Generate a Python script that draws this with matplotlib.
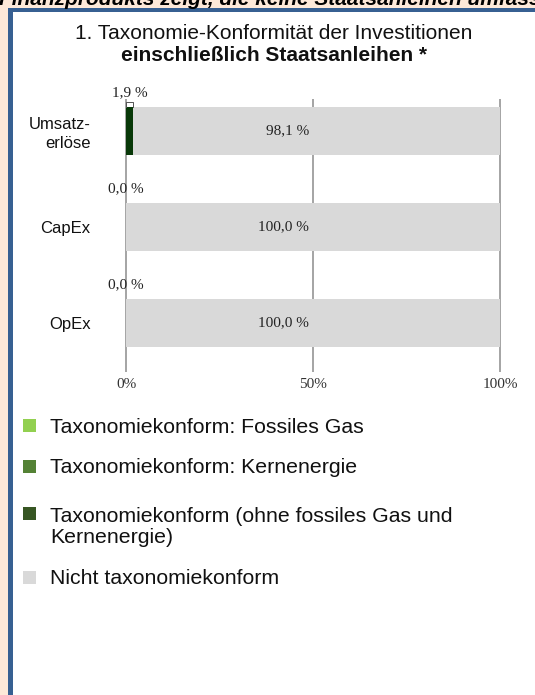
import numpy as np
import matplotlib.pyplot as plt
from matplotlib.patches import Rectangle

# =========================================================
# DATA
# =========================================================
categories = ["Umsatz-\nerlöse", "CapEx", "OpEx"]
gas = [0.0, 0.0, 0.0]            # Taxonomiekonform: Fossiles Gas
nuclear = [0.0, 0.0, 0.0]        # Taxonomiekonform: Kernenergie
aligned = [1.9, 0.0, 0.0]        # Taxonomiekonform (ohne Gas/Kernenergie)
not_aligned = [98.1, 100.0, 100.0]

xticks = [0, 50, 100]
xtick_labels = ["0%", "50%", "100%"]

legend_labels = [
    "Taxonomiekonform: Fossiles Gas",
    "Taxonomiekonform: Kernenergie",
    "Taxonomiekonform (ohne fossiles Gas und\nKernenergie)",
    "Nicht taxonomiekonform",
]
legend_colors = ["#92D050", "#548235", "#375623", "#D9D9D9"]
bar_colors = ["#92D050", "#548235", "#083808", "#D9D9D9"]

title_1 = "1. Taxonomie-Konformität der Investitionen"
title_2 = "einschließlich Staatsanleihen *"
top_text = "Finanzprodukts zeigt, die keine Staatsanleihen umfasst"

# =========================================================
# FIGURE / FRAME
# =========================================================
W, H = 535, 695
fig = plt.figure(figsize=(W / 100, H / 100), dpi=100)
fig.patch.set_facecolor("#FDE9D9")


def fx(px):
    return px / W


def fy(py):
    return 1 - py / H


sans = "Liberation Sans"
serif = "Liberation Serif"

fig.patches.append(Rectangle((fx(8), 0), 1, fy(8), transform=fig.transFigure,
                             facecolor="#376092", edgecolor="none", zorder=-2))
fig.patches.append(Rectangle((fx(13), 0), 1, fy(12), transform=fig.transFigure,
                             facecolor="white", edgecolor="none", zorder=-1))

# header line of the page above, cut off at the top edge
fig.text(fx(-1), fy(5), top_text, fontfamily=sans, fontsize=15,
         fontweight="bold", fontstyle="italic", ha="left", va="baseline")

fig.text(fx(274), fy(39), title_1, fontfamily=sans, fontsize=15,
         ha="center", va="baseline", color="#111111")
fig.text(fx(274), fy(61), title_2, fontfamily=sans, fontsize=15,
         fontweight="bold", ha="center", va="baseline", color="#111111")

# =========================================================
# BARS
# =========================================================
ax = fig.add_axes([fx(125.3), fy(372), fx(375.4), 273 / H], zorder=1)
ax.set_facecolor("none")
for s in ax.spines.values():
    s.set_visible(False)

y = np.arange(len(categories))
left = np.zeros(len(categories))
for vals, col in zip([gas, nuclear, aligned, not_aligned], bar_colors):
    vals = np.array(vals)
    ax.barh(y, vals, left=left, height=0.5, color=col, edgecolor="none", zorder=2)
    left = left + vals

ax.set_xlim(-0.2, 100.2)
ax.set_ylim(2.51, -0.333)
ax.set_xticks(xticks)
ax.set_xticklabels(xtick_labels, fontfamily=serif, fontsize=11, color="#333333")
ax.set_yticks(y)
ax.set_yticklabels(categories, fontfamily=sans, fontsize=12, color="#111111",
                   linespacing=1.3)
ax.tick_params(axis="x", length=0, pad=4)
ax.tick_params(axis="y", length=0, pad=25)
ax.xaxis.grid(True, color="#8C8C8C", linewidth=1.1)
ax.set_axisbelow(True)

# value labels
taxo = np.array(gas) + np.array(nuclear) + np.array(aligned)
for i in range(len(categories)):
    start = taxo[i]
    lab = f"{not_aligned[i]:.1f} %".replace(".", ",")
    ax.text(start + 0.42 * not_aligned[i], i, lab, fontfamily=serif, fontsize=11,
            ha="center", va="center", color="#222222", zorder=3)
    top_lab = f"{taxo[i]:.1f} %".replace(".", ",")
    ax.text(taxo[i] / 2, i - 0.40, top_lab, fontfamily=serif, fontsize=11,
            ha="center", va="center", color="#222222", clip_on=False)
    if taxo[i] > 0:
        ax.plot([0, 0, taxo[i], taxo[i]], [i - 0.25, i - 0.30, i - 0.30, i - 0.25],
                color="#555555", linewidth=0.7, clip_on=False, zorder=3)

# =========================================================
# LEGEND
# =========================================================
square_centers = [425, 466, 513, 577]
text_baselines = [433, 473, 543, 584]
for lab, col, c, b in zip(legend_labels, legend_colors, square_centers, text_baselines):
    fig.patches.append(Rectangle((fx(22.5), fy(c + 6.5)), 13 / W, 13 / H,
                                 transform=fig.transFigure, facecolor=col,
                                 edgecolor="none"))
    fig.text(fx(50), fy(b), lab, fontfamily=sans, fontsize=15.3, ha="left",
             va="baseline", color="#111111", linespacing=1.1)

fig.savefig("out.png", dpi=100, facecolor=fig.get_facecolor())
